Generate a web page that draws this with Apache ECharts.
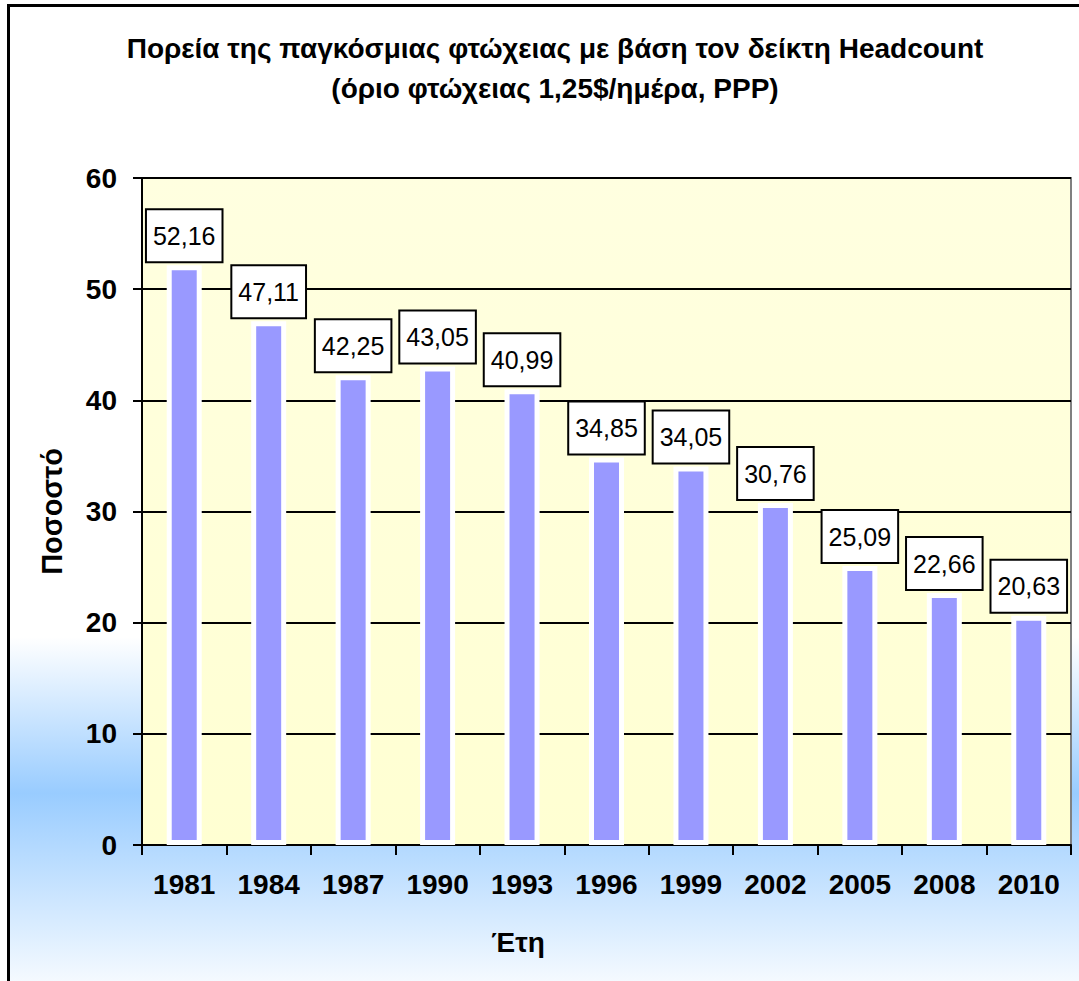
<!DOCTYPE html>
<html>
<head>
<meta charset="utf-8">
<script src="https://cdn.jsdelivr.net/npm/echarts@6/dist/echarts.min.js"></script>
<style>
    html, body {
        margin: 0;
        padding: 0;
        width: 1079px;
        height: 981px;
        overflow: hidden;
        background: #fff;
    }
    .frame {
        position: absolute;
        left: 7px;
        top: 4px;
        width: 1100px;
        height: 1000px;
        border: 3px solid #000;
        background: linear-gradient(to bottom, #fff 0px, #fff 630px, #99ccff 786px, #fff 996px);
    }
    .chart-container {
        position: absolute;
        left: 0;
        top: 0;
        width: 1079px;
        height: 981px;
    }
</style>
</head>
<body>
<div class="frame"></div>
<div class="chart-container" id="chart"></div>
<script>
const YEARS = ['1981', '1984', '1987', '1990', '1993', '1996', '1999', '2002', '2005', '2008', '2010'];
const HEADCOUNT = [52.16, 47.11, 42.25, 43.05, 40.99, 34.85, 34.05, 30.76, 25.09, 22.66, 20.63];
const Y_MIN = 0;
const Y_MAX = 60;
const Y_STEP = 10;

const TITLE_LINES = [
    'Πορεία της παγκόσμιας φτώχειας με βάση τον δείκτη Headcount',
    '(όριο φτώχειας 1,25$/ημέρα, PPP)'
];
const FONT = "'Liberation Sans', Arial, sans-serif";

const chart = echarts.init(document.getElementById('chart'), null, { renderer: 'svg' });

// greek style decimals: 52,16
const fmt = (v) => v.toFixed(2).replace('.', ',');

chart.setOption({
    backgroundColor: 'transparent',
    animation: false,
    title: {
        text: TITLE_LINES.join('\n'),
        left: 550,
        top: 23,
        textAlign: 'center',
        textStyle: {
            color: '#000',
            fontFamily: FONT,
            fontWeight: 'bold',
            fontSize: 28,
            lineHeight: 40
        }
    },
    graphic: [{
        type: 'text',
        x: 518,
        y: 928,
        style: {
            text: 'Έτη',
            textAlign: 'center',
            textVerticalAlign: 'top',
            fill: '#000',
            font: "bold 28px 'Liberation Sans', Arial, sans-serif"
        }
    }],
    grid: {
        left: 142,
        right: 8,
        top: 178,
        bottom: 136,
        show: true,
        borderColor: '#808080',
        borderWidth: 2,
        backgroundColor: new echarts.graphic.LinearGradient(0, 0, 0, 1, [
            { offset: 0, color: '#ffffe0' },
            { offset: 1, color: '#ffffd2' }
        ])
    },
    xAxis: {
        type: 'category',
        data: YEARS,
        axisLine: {
            show: true,
            lineStyle: { color: '#000', width: 2 }
        },
        axisTick: {
            show: true,
            length: 10,
            lineStyle: { color: '#000', width: 2 }
        },
        axisLabel: {
            color: '#000',
            fontFamily: FONT,
            fontWeight: 'bold',
            fontSize: 28,
            margin: 25,
            interval: 0
        },
        splitLine: { show: false }
    },
    yAxis: {
        type: 'value',
        min: Y_MIN,
        max: Y_MAX,
        interval: Y_STEP,
        name: 'Ποσοστό',
        nameLocation: 'middle',
        nameGap: 76,
        nameRotate: 90,
        nameTextStyle: {
            color: '#000',
            fontFamily: FONT,
            fontWeight: 'bold',
            fontSize: 29
        },
        axisLine: {
            show: true,
            lineStyle: { color: '#000', width: 2 }
        },
        axisTick: {
            show: true,
            length: 9,
            lineStyle: { color: '#000', width: 2 }
        },
        axisLabel: {
            color: '#000',
            fontFamily: FONT,
            fontWeight: 'bold',
            fontSize: 28,
            margin: 25
        },
        splitLine: {
            show: true,
            lineStyle: { color: '#000', width: 2 }
        }
    },
    series: [{
        type: 'bar',
        data: HEADCOUNT,
        barWidth: 35,
        itemStyle: {
            color: '#9999ff',
            borderColor: '#fff',
            borderWidth: 5
        },
        label: {
            show: true,
            position: 'top',
            distance: 4,
            formatter: (p) => fmt(p.value),
            color: '#000',
            fontFamily: FONT,
            fontSize: 25,
            lineHeight: 25,
            backgroundColor: '#fff',
            borderColor: '#000',
            borderWidth: 2,
            padding: [13, 6]
        }
    }]
});
</script>
</body>
</html>
